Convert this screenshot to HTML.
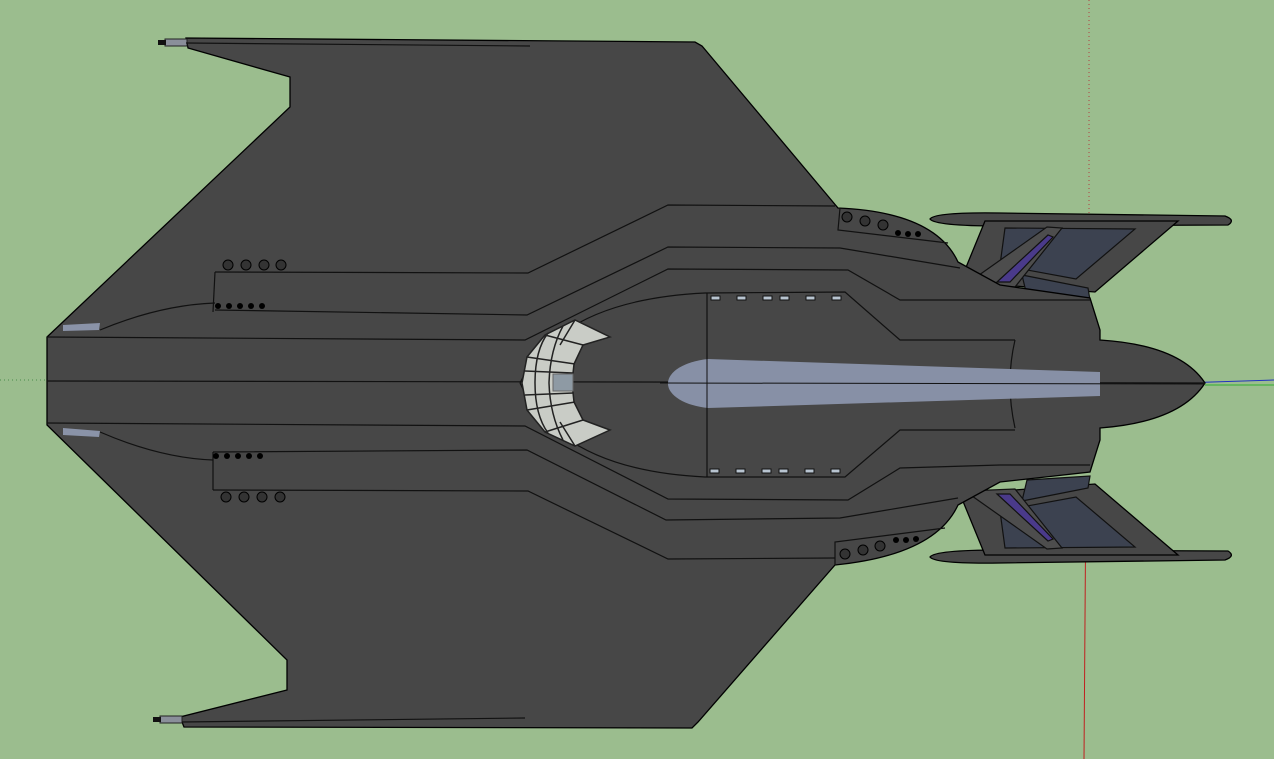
<!DOCTYPE html>
<html><head><style>html,body{margin:0;padding:0;background:#9bbd8e;}svg{display:block}</style></head>
<body>
<svg width="1274" height="759" viewBox="0 0 1274 759" xmlns="http://www.w3.org/2000/svg">
<rect width="1274" height="759" fill="#9bbd8e"/>
<line x1="1089" y1="0" x2="1089" y2="230" stroke="#b04040" stroke-dasharray="1,3"/>
<line x1="1086" y1="480" x2="1084" y2="759" stroke="#c02020"/>
<line x1="0" y1="380" x2="47" y2="380" stroke="#4a8a4a" stroke-dasharray="1,3"/>
<line x1="1205" y1="385" x2="1274" y2="385" stroke="#30b030"/>
<line x1="1150" y1="384" x2="1274" y2="380" stroke="#2030c0"/>
<defs>
<g id="pylon">
<g stroke="#000" stroke-width="1.3" fill="#474747">
<path d="M930,219 Q935,212 1000,213 L1225,216 Q1236,220 1228,225 L1000,226 Q935,226 930,219Z"/>
<path d="M985,221 L1178,221 L1095,292 L960,282Z"/>
</g>
<g stroke="#111" stroke-width="1.2">
<path d="M1005,228 L1135,229 L1076,279 L1000,265Z" fill="#3c4250"/>
<path d="M1022,275 L1088,288 L1090,300 L1027,296Z" fill="#3c4250"/>
<path d="M965,285 L1047,227 L1062,228 L1015,287Z" fill="#4d4d4d"/>
<path d="M997,282 L1048,235 L1053,237 L1010,282Z" fill="#4a3a8a"/>
</g>
</g>
</defs>
<use href="#pylon"/>
<use href="#pylon" transform="translate(0,776) scale(1,-1)"/>
<g stroke="#000" stroke-width="1.3" fill="#474747">
<path d="M47,337 L290,107 L290,77 L188,48 L186,38 L695,42 L702,46 L838,208 Q935,212 958,262 L1000,285 L1090,298 L1100,330 L1100,340 Q1180,345 1205,383 Q1180,422 1100,428 L1100,440 L1090,472 L1000,482 L958,505 Q935,555 835,565 L698,722 L692,728 L184,727 L180,717 L287,690 L287,660 L47,425 Z"/>
</g>
<rect x="165" y="39" width="22" height="7" fill="#8a8f9a" stroke="#222"/>
<rect x="158" y="40" width="8" height="5" fill="#111"/>
<rect x="160" y="716" width="22" height="7" fill="#8a8f9a" stroke="#222"/>
<rect x="153" y="717" width="8" height="5" fill="#111"/>
<g fill="none" stroke="#111" stroke-width="1.2">
<line x1="186" y1="43" x2="530" y2="46"/>
<line x1="182" y1="722" x2="525" y2="718"/>
<path d="M215,272 L528,273 L668,205 L835,206"/>
<path d="M215,310 L527,315 L668,247 L840,248 L960,268"/>
<path d="M47,337 L525,340 L668,269 L848,270 L900,300 L1000,300 L1090,300"/>
<path d="M215,272 L213,312"/>
<path d="M100,330 Q160,305 215,303"/>
<path d="M213,490 L528,491 L668,559 L835,558"/>
<path d="M213,452 L527,450 L666,520 L840,518 L958,498"/>
<path d="M47,423 L525,426 L668,499 L848,500 L900,468 L1000,465 L1090,465"/>
<path d="M213,452 L213,490"/>
<path d="M100,432 Q160,458 213,460"/>
<line x1="47" y1="381" x2="1205" y2="383"/>
<path d="M520,383 Q560,300 705,293 L845,292 L900,340 L1015,340"/>
<path d="M520,383 Q560,470 705,477 L845,477 L900,430 L1015,430"/>
<line x1="707" y1="293" x2="707" y2="477"/>
<path d="M1015,340 Q1005,383 1015,428"/>
<path d="M840,208 L838,230 L948,243"/>
<path d="M835,565 L835,542 L945,528"/>
</g>
<path d="M708,359 L1100,372 L1100,396 L708,408 A50,25 0 0 1 708,359Z" fill="#8790a6"/>
<line x1="660" y1="383" x2="1205" y2="384" stroke="#111"/>
<line x1="707" y1="355" x2="707" y2="410" stroke="#111"/>
<path d="M522,383 L527,357 L545,335 L575,320 L610,337 L583,345 L574,364 L572,383 L574,402 L583,420 L610,430 L575,446 L545,432 L527,410Z" fill="#c9ccc6" stroke="#222" stroke-width="1.5"/>
<g stroke="#222" stroke-width="1.5" fill="none">
<path d="M548,333 Q535,350 535,383 Q535,415 548,433"/>
<path d="M563,326 Q550,350 549,383 Q550,415 563,440"/>
<path d="M527,357 L575,364 M525,371 L573,373 M525,395 L573,393 M527,410 L575,402 M545,335 L583,345 M545,432 L583,420 M575,320 L560,345 M575,446 L560,422"/>
</g>
<rect x="553" y="374" width="20" height="17" fill="#8e9aa4" stroke="#666"/>
<g fill="#b8c4d0" stroke="#111">
<rect x="711" y="296" width="9" height="4"/><rect x="737" y="296" width="9" height="4"/><rect x="763" y="296" width="9" height="4"/><rect x="780" y="296" width="9" height="4"/><rect x="806" y="296" width="9" height="4"/><rect x="832" y="296" width="9" height="4"/>
<rect x="710" y="469" width="9" height="4"/><rect x="736" y="469" width="9" height="4"/><rect x="762" y="469" width="9" height="4"/><rect x="779" y="469" width="9" height="4"/><rect x="805" y="469" width="9" height="4"/><rect x="831" y="469" width="9" height="4"/>
</g>
<path d="M63,325 L100,323 L99,330 L63,331Z" fill="#8a93a8"/>
<path d="M63,428 L100,431 L99,437 L63,435Z" fill="#8a93a8"/>
<g fill="#333" stroke="#000">
<circle cx="228" cy="265" r="5"/><circle cx="246" cy="265" r="5"/><circle cx="264" cy="265" r="5"/><circle cx="281" cy="265" r="5"/>
<circle cx="226" cy="497" r="5"/><circle cx="244" cy="497" r="5"/><circle cx="262" cy="497" r="5"/><circle cx="280" cy="497" r="5"/>
<circle cx="847" cy="217" r="5"/><circle cx="865" cy="221" r="5"/><circle cx="883" cy="225" r="5"/>
<circle cx="845" cy="554" r="5"/><circle cx="863" cy="550" r="5"/><circle cx="880" cy="546" r="5"/>
</g>
<g fill="#000">
<circle cx="218" cy="306" r="3"/><circle cx="229" cy="306" r="3"/><circle cx="240" cy="306" r="3"/><circle cx="251" cy="306" r="3"/><circle cx="262" cy="306" r="3"/>
<circle cx="216" cy="456" r="3"/><circle cx="227" cy="456" r="3"/><circle cx="238" cy="456" r="3"/><circle cx="249" cy="456" r="3"/><circle cx="260" cy="456" r="3"/>
<circle cx="898" cy="233" r="3"/><circle cx="908" cy="234" r="3"/><circle cx="918" cy="234" r="3"/>
<circle cx="896" cy="540" r="3"/><circle cx="906" cy="540" r="3"/><circle cx="916" cy="539" r="3"/>
</g>
</svg>
</body></html>
